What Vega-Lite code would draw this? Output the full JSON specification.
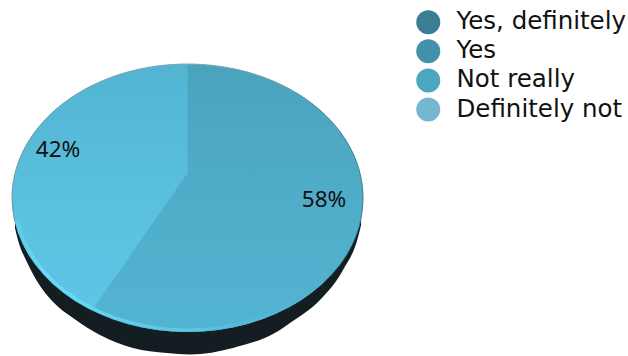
{
  "$schema": "https://vega.github.io/schema/vega-lite/v6.json",
  "width": 628,
  "height": 356,
  "padding": 0,
  "autosize": {"type": "none"},
  "background": "white",
  "config": {"view": {"stroke": null}, "font": "DejaVu Sans"},
  "datasets": {
    "answers": [
      {"answer": "Yes, definitely", "share": 0},
      {"answer": "Yes", "share": 0.58, "labelX": 77.8, "labelY": -1.5},
      {"answer": "Not really", "share": 0.42, "labelX": -73.8, "labelY": 35.8},
      {"answer": "Definitely not", "share": 0}
    ],
    "base": [
      {"x": -98.3, "low": -22.4, "high": 0},
      {"x": -96.6, "low": -31.3, "high": 0},
      {"x": -91.5, "low": -47.8, "high": 0},
      {"x": -85.8, "low": -61.9, "high": 0},
      {"x": -76.6, "low": -77.6, "high": 0},
      {"x": -65.2, "low": -89.6, "high": 0},
      {"x": -49.9, "low": -102.2, "high": 0},
      {"x": -31.1, "low": -111.9, "high": 0},
      {"x": -11.7, "low": -115.7, "high": 0},
      {"x": 1.4, "low": -116.8, "high": 0},
      {"x": 25.9, "low": -111.9, "high": 0},
      {"x": 52.7, "low": -98.5, "high": 0},
      {"x": 58.4, "low": -93.3, "high": 0},
      {"x": 75.5, "low": -76.1, "high": 0},
      {"x": 88.6, "low": -53.7, "high": 0},
      {"x": 97.2, "low": -29.1, "high": 0},
      {"x": 98.9, "low": -20.1, "high": 0}
    ],
    "disc": [
      {"x": -100, "low": 0, "high": 0},
      {"x": -99.62, "low": -8.72, "high": 8.72},
      {"x": -98.48, "low": -17.36, "high": 17.36},
      {"x": -96.59, "low": -25.88, "high": 25.88},
      {"x": -93.97, "low": -34.2, "high": 34.2},
      {"x": -90.63, "low": -42.26, "high": 42.26},
      {"x": -86.6, "low": -50, "high": 50},
      {"x": -81.92, "low": -57.36, "high": 57.36},
      {"x": -76.6, "low": -64.28, "high": 64.28},
      {"x": -70.71, "low": -70.71, "high": 70.71},
      {"x": -64.28, "low": -76.6, "high": 76.6},
      {"x": -57.36, "low": -81.92, "high": 81.92},
      {"x": -50, "low": -86.6, "high": 86.6},
      {"x": -42.26, "low": -90.63, "high": 90.63},
      {"x": -34.2, "low": -93.97, "high": 93.97},
      {"x": -25.88, "low": -96.59, "high": 96.59},
      {"x": -17.36, "low": -98.48, "high": 98.48},
      {"x": -8.72, "low": -99.62, "high": 99.62},
      {"x": 0, "low": -100, "high": 100},
      {"x": 8.72, "low": -99.62, "high": 99.62},
      {"x": 17.36, "low": -98.48, "high": 98.48},
      {"x": 25.88, "low": -96.59, "high": 96.59},
      {"x": 34.2, "low": -93.97, "high": 93.97},
      {"x": 42.26, "low": -90.63, "high": 90.63},
      {"x": 50, "low": -86.6, "high": 86.6},
      {"x": 57.36, "low": -81.92, "high": 81.92},
      {"x": 64.28, "low": -76.6, "high": 76.6},
      {"x": 70.71, "low": -70.71, "high": 70.71},
      {"x": 76.6, "low": -64.28, "high": 64.28},
      {"x": 81.92, "low": -57.36, "high": 57.36},
      {"x": 86.6, "low": -50, "high": 50},
      {"x": 90.63, "low": -42.26, "high": 42.26},
      {"x": 93.97, "low": -34.2, "high": 34.2},
      {"x": 96.59, "low": -25.88, "high": 25.88},
      {"x": 98.48, "low": -17.36, "high": 17.36},
      {"x": 99.62, "low": -8.72, "high": 8.72},
      {"x": 100, "low": 0, "high": 0}
    ],
    "sliceNotReally": [
      {"x": -100, "low": 0, "high": 0},
      {"x": -99.62, "low": -8.72, "high": 8.72},
      {"x": -98.48, "low": -17.36, "high": 17.36},
      {"x": -96.59, "low": -25.88, "high": 25.88},
      {"x": -93.97, "low": -34.2, "high": 34.2},
      {"x": -90.63, "low": -42.26, "high": 42.26},
      {"x": -86.6, "low": -50, "high": 50},
      {"x": -81.92, "low": -57.36, "high": 57.36},
      {"x": -76.6, "low": -64.28, "high": 64.28},
      {"x": -70.71, "low": -70.71, "high": 70.71},
      {"x": -64.28, "low": -76.6, "high": 76.6},
      {"x": -57.36, "low": -81.92, "high": 81.92},
      {"x": -54.4, "low": -83.9, "high": 83.9},
      {"x": -50, "low": -75.6, "high": 86.6},
      {"x": -42.26, "low": -61.0, "high": 90.63},
      {"x": -34.2, "low": -45.8, "high": 93.97},
      {"x": -25.88, "low": -30.1, "high": 96.59},
      {"x": -17.36, "low": -14.0, "high": 98.48},
      {"x": -8.72, "low": 2.3, "high": 99.62},
      {"x": 0, "low": 18.7, "high": 100}
    ],
    "sliceYes": [
      {"x": -54.4, "low": -83.9, "high": -83.9},
      {"x": -50, "low": -86.6, "high": -75.6},
      {"x": -42.26, "low": -90.63, "high": -61.0},
      {"x": -34.2, "low": -93.97, "high": -45.8},
      {"x": -25.88, "low": -96.59, "high": -30.1},
      {"x": -17.36, "low": -98.48, "high": -14.0},
      {"x": -8.72, "low": -99.62, "high": 2.3},
      {"x": 0, "low": -100, "high": 18.7},
      {"x": 0.05, "low": -100, "high": 100},
      {"x": 8.72, "low": -99.62, "high": 99.62},
      {"x": 17.36, "low": -98.48, "high": 98.48},
      {"x": 25.88, "low": -96.59, "high": 96.59},
      {"x": 34.2, "low": -93.97, "high": 93.97},
      {"x": 42.26, "low": -90.63, "high": 90.63},
      {"x": 50, "low": -86.6, "high": 86.6},
      {"x": 57.36, "low": -81.92, "high": 81.92},
      {"x": 64.28, "low": -76.6, "high": 76.6},
      {"x": 70.71, "low": -70.71, "high": 70.71},
      {"x": 76.6, "low": -64.28, "high": 64.28},
      {"x": 81.92, "low": -57.36, "high": 57.36},
      {"x": 86.6, "low": -50, "high": 50},
      {"x": 90.63, "low": -42.26, "high": 42.26},
      {"x": 93.97, "low": -34.2, "high": 34.2},
      {"x": 96.59, "low": -25.88, "high": 25.88},
      {"x": 98.48, "low": -17.36, "high": 17.36},
      {"x": 99.62, "low": -8.72, "high": 8.72},
      {"x": 100, "low": 0, "high": 0}
    ],
    "litRim": [
      {"step": 1, "x": 75.46, "y": -63.31},
      {"step": 2, "x": 63.31, "y": -75.46},
      {"step": 3, "x": 49.25, "y": -85.3},
      {"step": 4, "x": 33.69, "y": -92.56},
      {"step": 5, "x": 17.1, "y": -97.0},
      {"step": 6, "x": 0, "y": -98.5},
      {"step": 7, "x": -17.1, "y": -97.0},
      {"step": 8, "x": -33.69, "y": -92.56},
      {"step": 9, "x": -49.25, "y": -85.3},
      {"step": 10, "x": -63.31, "y": -75.46},
      {"step": 11, "x": -75.46, "y": -63.31},
      {"step": 12, "x": -85.3, "y": -49.25},
      {"step": 13, "x": -92.56, "y": -33.69},
      {"step": 14, "x": -97.0, "y": -17.1}
    ],
    "outerEdge": [
      {"step": 1, "x": -98.48, "y": -17.36},
      {"step": 2, "x": -100, "y": 0},
      {"step": 3, "x": -98.48, "y": 17.36},
      {"step": 4, "x": -93.97, "y": 34.2},
      {"step": 5, "x": -86.6, "y": 50},
      {"step": 6, "x": -76.6, "y": 64.28},
      {"step": 7, "x": -64.28, "y": 76.6},
      {"step": 8, "x": -50, "y": 86.6},
      {"step": 9, "x": -34.2, "y": 93.97},
      {"step": 10, "x": -17.36, "y": 98.48},
      {"step": 11, "x": 0, "y": 100},
      {"step": 12, "x": 17.36, "y": 98.48},
      {"step": 13, "x": 34.2, "y": 93.97},
      {"step": 14, "x": 50, "y": 86.6},
      {"step": 15, "x": 64.28, "y": 76.6},
      {"step": 16, "x": 76.6, "y": 64.28},
      {"step": 17, "x": 86.6, "y": 50},
      {"step": 18, "x": 93.97, "y": 34.2},
      {"step": 19, "x": 98.48, "y": 17.36},
      {"step": 20, "x": 100, "y": 0},
      {"step": 21, "x": 98.48, "y": -17.36},
      {"step": 22, "x": 93.97, "y": -34.2},
      {"step": 23, "x": 86.6, "y": -50},
      {"step": 24, "x": 76.6, "y": -64.28}
    ]
  },
  "encoding": {
    "x": {"field": "x", "type": "quantitative", "axis": null, "scale": {"domain": [-106.84, 251.0], "nice": false, "zero": false}},
    "y": {"field": "low", "type": "quantitative", "axis": null, "scale": {"domain": [-117.91, 147.76], "nice": false, "zero": false}}
  },
  "layer": [
    {
      "description": "Dark side wall of the disc",
      "data": {"name": "base"},
      "mark": {"type": "area", "interpolate": "monotone", "orient": "vertical", "fill": "#141e22"},
      "encoding": {"y2": {"field": "high"}}
    },
    {
      "description": "Full disc under the two slices, so their shared edge stays closed",
      "data": {"name": "disc"},
      "mark": {"type": "area", "orient": "vertical", "fill": "#52b3d0"},
      "encoding": {"y2": {"field": "high"}}
    },
    {
      "description": "Yes slice",
      "data": {"name": "sliceYes"},
      "mark": {"type": "area", "orient": "vertical", "fill": {"gradient": "linear", "x1": 0, "y1": 0, "x2": 0, "y2": 1, "stops": [{"offset": 0, "color": "#4aa3bd"}, {"offset": 0.5, "color": "#4fadc9"}, {"offset": 1, "color": "#53b4d1"}]}},
      "encoding": {"y2": {"field": "high"}}
    },
    {
      "description": "Not really slice",
      "data": {"name": "sliceNotReally"},
      "mark": {"type": "area", "orient": "vertical", "fill": {"gradient": "linear", "x1": 0, "y1": 0, "x2": 0, "y2": 1, "stops": [{"offset": 0, "color": "#52b4d2"}, {"offset": 0.6, "color": "#5bc1df"}, {"offset": 1, "color": "#5dc6e4"}]}},
      "encoding": {"y2": {"field": "high"}}
    },
    {
      "description": "Soft glow along the lower lip of the disc",
      "data": {"name": "litRim"},
      "mark": {"type": "line", "interpolate": "cardinal", "strokeWidth": 3, "stroke": {"gradient": "linear", "x1": 0, "y1": 0, "x2": 1, "y2": 0, "stops": [{"offset": 0, "color": "rgba(104,216,244,0.5)"}, {"offset": 0.1, "color": "rgba(104,222,248,0.95)"}, {"offset": 0.6, "color": "rgba(96,205,234,0.7)"}, {"offset": 1, "color": "rgba(80,173,201,0)"}]}},
      "encoding": {"y": {"field": "y", "type": "quantitative"}, "order": {"field": "step", "type": "quantitative"}}
    },
    {
      "description": "Thin edge around the upper and right side",
      "data": {"name": "outerEdge"},
      "mark": {"type": "line", "interpolate": "cardinal", "strokeWidth": 1, "stroke": {"gradient": "linear", "x1": 0, "y1": 0, "x2": 1, "y2": 0, "stops": [{"offset": 0, "color": "#6d98a6"}, {"offset": 0.6, "color": "#8aa9b3"}, {"offset": 1, "color": "#3c7d91"}]}},
      "encoding": {"y": {"field": "y", "type": "quantitative"}, "order": {"field": "step", "type": "quantitative"}}
    },
    {
      "description": "Percentage labels",
      "data": {"name": "answers"},
      "transform": [{"filter": "datum.share > 0"}],
      "mark": {"type": "text", "font": "Noto Sans", "fontSize": 22.5, "fill": "#111111", "align": "center", "baseline": "middle"},
      "encoding": {
        "x": {"field": "labelX", "type": "quantitative"},
        "y": {"field": "labelY", "type": "quantitative"},
        "text": {"field": "share", "type": "quantitative", "format": ".0%"}
      }
    },
    {
      "description": "Carries the answer legend",
      "data": {"name": "answers"},
      "mark": {"type": "point", "filled": true, "size": 0},
      "encoding": {
        "x": {"value": 0},
        "y": {"value": 0},
        "color": {
          "field": "answer",
          "type": "nominal",
          "scale": {"domain": ["Yes, definitely", "Yes", "Not really", "Definitely not"], "range": ["#3a7d95", "#4291ab", "#4ba6bf", "#75b7cf"]},
          "legend": {
            "title": null,
            "orient": "none",
            "legendX": 416,
            "legendY": 10,
            "symbolType": "circle",
            "symbolSize": 576,
            "symbolStrokeWidth": 0,
            "symbolOpacity": 1,
            "labelFont": "DejaVu Sans",
            "labelFontSize": 24.5,
            "labelColor": "#111111",
            "labelOffset": 16,
            "labelLimit": 220,
            "rowPadding": 3.1,
            "padding": 0
          }
        }
      }
    }
  ]
}
